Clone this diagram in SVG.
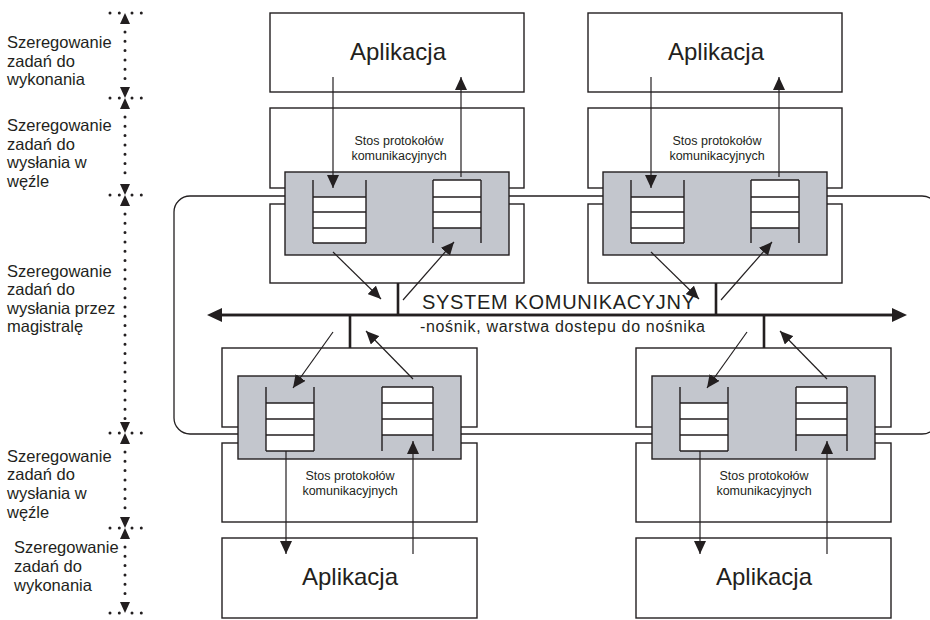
<svg xmlns="http://www.w3.org/2000/svg" width="930" height="620" viewBox="0 0 930 620">
<style>
 .box{fill:#fff;stroke:#231f20;stroke-width:1.4}
 .gray{fill:#c3c6cd;stroke:#231f20;stroke-width:1.4}
 .cell{fill:#fff;stroke:none}
 .ql{stroke:#231f20;stroke-width:1.4;fill:none}
 .arr{stroke:#231f20;stroke-width:1.2;fill:none;marker-end:url(#ah)}
 .ring{fill:none;stroke:#231f20;stroke-width:1.3}
 .bus{stroke:#231f20;stroke-width:2.6;fill:none}
 .busa{stroke:#231f20;stroke-width:2.6;fill:none;marker-end:url(#bh)}
 .app{font-family:"Liberation Sans",Arial,sans-serif;font-size:24px;text-anchor:middle;fill:#231f20}
 .stos{font-family:"Liberation Sans",Arial,sans-serif;font-size:12.5px;text-anchor:middle;fill:#231f20}
 .lbl{font-family:"Liberation Sans",Arial,sans-serif;font-size:16.5px;fill:#231f20}
 .sys{font-family:"Liberation Sans",Arial,sans-serif;fill:#231f20}
 .dots{stroke:#231f20;stroke-width:3;stroke-linecap:round;stroke-dasharray:0 9.3;fill:none}
 .tri{fill:#231f20}
</style>
<defs>
 <marker id="ah" markerUnits="userSpaceOnUse" markerWidth="14" markerHeight="12" refX="13" refY="6" orient="auto">
  <path d="M0,0 L13,6 L0,12 z" fill="#231f20"/>
 </marker>
 <marker id="bh" markerUnits="userSpaceOnUse" markerWidth="16" markerHeight="14" refX="0" refY="7" orient="auto">
  <path d="M0,0 L15,7 L0,14 z" fill="#231f20"/>
 </marker>
 <path id="tup" d="M0,0 L5,11 L-5,11 z"/>
 <path id="tdn" d="M0,0 L5,-11 L-5,-11 z"/>
</defs>

<!-- left scale -->
<g id="scale">
 <g class="tri">
  <use href="#tup" x="125" y="13"/>
  <use href="#tdn" x="125" y="98"/><use href="#tup" x="125" y="98"/>
  <use href="#tdn" x="125" y="195"/><use href="#tup" x="125" y="195"/>
  <use href="#tdn" x="125" y="433"/><use href="#tup" x="125" y="433"/>
  <use href="#tdn" x="125" y="528"/><use href="#tup" x="125" y="528"/>
  <use href="#tdn" x="125" y="613"/>
 </g>
 <path class="dots" d="M125,32 V84 M125,117 V180 M125,214 V420 M125,452 V515 M125,547 V600"/>
 <path class="dots" d="M110,13 H120 M132,13 H142 M110,98 H120 M132,98 H142 M110,195 H120 M132,195 H142 M110,433 H120 M132,433 H142 M110,528 H120 M132,528 H142 M110,613 H120 M132,613 H142"/>
 <text class="lbl" x="7" y="48">Szeregowanie<tspan x="7" y="67">zadań do</tspan><tspan x="7" y="85">wykonania</tspan></text>
 <text class="lbl" x="7" y="131">Szeregowanie<tspan x="7" y="150">zadań do</tspan><tspan x="7" y="168">wysłania w</tspan><tspan x="7" y="187">węźle</tspan></text>
 <text class="lbl" x="7" y="277">Szeregowanie<tspan x="7" y="295">zadań do</tspan><tspan x="7" y="314">wysłania przez</tspan><tspan x="7" y="332">magistralę</tspan></text>
 <text class="lbl" x="7" y="462">Szeregowanie<tspan x="7" y="480">zadań do</tspan><tspan x="7" y="499">wysłania w</tspan><tspan x="7" y="518">węźle</tspan></text>
 <text class="lbl" x="14" y="553">Szeregowanie<tspan x="14" y="572">zadań do</tspan><tspan x="14" y="591">wykonania</tspan></text>
</g>

<!-- ring (bus loop) -->
<g id="connectors-ring">
 <rect class="ring" x="174" y="196" width="764" height="238" rx="16" ry="16"/>
</g>

<!-- top nodes -->
<g id="node-top-left">
 <rect class="box" x="270" y="13" width="254" height="79"/>
 <text class="app" x="398" y="60">Aplikacja</text>
 <rect class="box" x="270" y="108" width="254" height="80"/>
 <rect class="box" x="270" y="204" width="254" height="79"/>
 <text class="stos" x="399" y="145">Stos protokołów<tspan x="399" y="160">komunikacyjnych</tspan></text>
 <rect class="gray" x="285" y="172" width="224" height="83"/>
 <rect class="cell" x="313" y="197" width="53" height="46"/>
 <path class="ql" d="M313,180 V243 M366,180 V243 M313,197 H366 M313,212 H366 M313,228 H366 M313,243 H366"/>
 <rect class="cell" x="433" y="180" width="48" height="48"/>
 <path class="ql" d="M433,180 V243 M481,180 V243 M433,180 H481 M433,197 H481 M433,212 H481 M433,228 H481"/>
</g>
<g id="node-top-right" transform="translate(318,0)">
 <rect class="box" x="270" y="13" width="254" height="79"/>
 <text class="app" x="398" y="60">Aplikacja</text>
 <rect class="box" x="270" y="108" width="254" height="80"/>
 <rect class="box" x="270" y="204" width="254" height="79"/>
 <text class="stos" x="399" y="145">Stos protokołów<tspan x="399" y="160">komunikacyjnych</tspan></text>
 <rect class="gray" x="285" y="172" width="224" height="83"/>
 <rect class="cell" x="313" y="197" width="53" height="46"/>
 <path class="ql" d="M313,180 V243 M366,180 V243 M313,197 H366 M313,212 H366 M313,228 H366 M313,243 H366"/>
 <rect class="cell" x="433" y="180" width="48" height="48"/>
 <path class="ql" d="M433,180 V243 M481,180 V243 M433,180 H481 M433,197 H481 M433,212 H481 M433,228 H481"/>
</g>

<!-- bottom nodes -->
<g id="node-bottom-left">
 <rect class="box" x="222" y="348" width="255" height="79"/>
 <rect class="box" x="222" y="443" width="255" height="79"/>
 <text class="stos" x="350" y="480">Stos protokołów<tspan x="350" y="495">komunikacyjnych</tspan></text>
 <rect class="box" x="222" y="538" width="255" height="80"/>
 <text class="app" x="350" y="585">Aplikacja</text>
 <rect class="gray" x="238" y="376" width="223" height="83"/>
 <rect class="cell" x="266" y="403" width="48" height="48"/>
 <path class="ql" d="M266,387 V451 M314,387 V451 M266,403 H314 M266,419 H314 M266,435 H314 M266,451 H314"/>
 <rect class="cell" x="382" y="387" width="51" height="48"/>
 <path class="ql" d="M382,387 V451 M433,387 V451 M382,387 H433 M382,403 H433 M382,419 H433 M382,435 H433"/>
</g>
<g id="node-bottom-right" transform="translate(414,0)">
 <rect class="box" x="222" y="348" width="255" height="79"/>
 <rect class="box" x="222" y="443" width="255" height="79"/>
 <text class="stos" x="350" y="480">Stos protokołów<tspan x="350" y="495">komunikacyjnych</tspan></text>
 <rect class="box" x="222" y="538" width="255" height="80"/>
 <text class="app" x="350" y="585">Aplikacja</text>
 <rect class="gray" x="238" y="376" width="223" height="83"/>
 <rect class="cell" x="266" y="403" width="48" height="48"/>
 <path class="ql" d="M266,387 V451 M314,387 V451 M266,403 H314 M266,419 H314 M266,435 H314 M266,451 H314"/>
 <rect class="cell" x="382" y="387" width="51" height="48"/>
 <path class="ql" d="M382,387 V451 M433,387 V451 M382,387 H433 M382,403 H433 M382,419 H433 M382,435 H433"/>
</g>

<!-- communication system -->
<g id="node-system">
 <text class="sys" x="422" y="309" font-size="20" textLength="273" lengthAdjust="spacing">SYSTEM KOMUNIKACYJNY</text>
 <text class="sys" x="420" y="332" font-size="16" textLength="285" lengthAdjust="spacing">-nośnik, warstwa dostepu do nośnika</text>
</g>

<!-- connectors -->
<g id="connectors">
 <path class="bus" d="M222,315 H892"/>
 <path class="busa" d="M560,315 H892"/>
 <path class="busa" d="M560,315 H222"/>
 <path class="bus" d="M398,283 V315 M716,283 V315 M350,315 V348 M764,315 V348"/>
 <!-- top-left -->
 <path class="arr" d="M333,77 V188"/>
 <path class="arr" d="M461,177 V77"/>
 <path class="arr" d="M333,252 L381,299"/>
 <path class="arr" d="M403,300 L454,242"/>
 <!-- top-right -->
 <path class="arr" d="M651,77 V188"/>
 <path class="arr" d="M779,177 V77"/>
 <path class="arr" d="M651,252 L699,299"/>
 <path class="arr" d="M721,300 L772,242"/>
 <!-- bottom-left -->
 <path class="arr" d="M333,332 L293,388"/>
 <path class="arr" d="M413,379 L366,331"/>
 <path class="arr" d="M286,451 V554"/>
 <path class="arr" d="M413,554 V441"/>
 <!-- bottom-right -->
 <path class="arr" d="M747,332 L707,388"/>
 <path class="arr" d="M827,379 L780,331"/>
 <path class="arr" d="M700,451 V554"/>
 <path class="arr" d="M827,554 V441"/>
</g>
</svg>
